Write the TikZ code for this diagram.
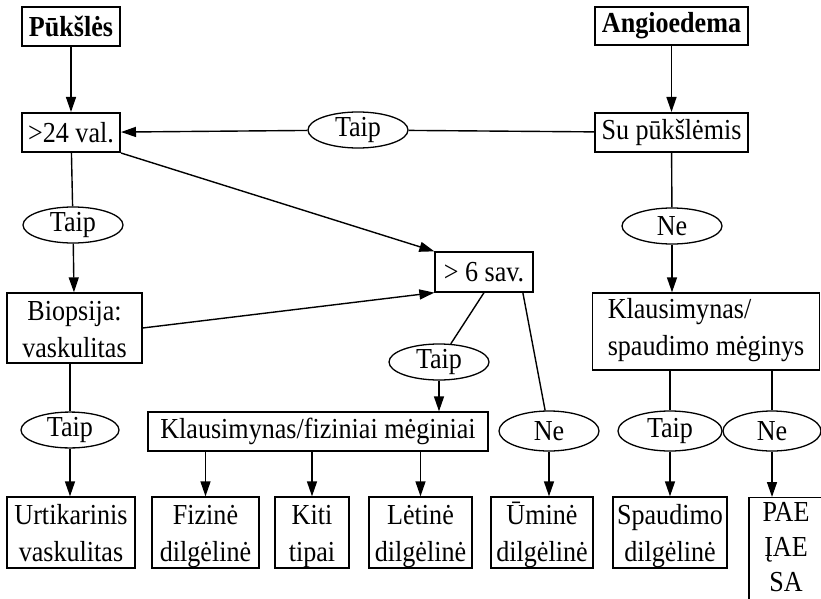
\documentclass[tikz,border=0pt]{standalone}
\usepackage{fontspec}
\setmainfont{Liberation Serif}[FakeStretch=0.9]
\usetikzlibrary{shapes.geometric,arrows.meta,calc}
\newcommand\tophs{\rule{0pt}{27pt}}
\newcommand\botds{\rule[-6pt]{0pt}{6pt}}
\begin{document}
\begin{tikzpicture}[x=1pt,y=-1pt,
  every node/.style={font=\fontsize{29}{37}\selectfont, inner sep=0pt, text=black},
  box/.style={draw, line width=1.3pt, rectangle, align=center},
  tbox/.style={draw, line width=2pt, rectangle, align=center},
  oval/.style={draw, line width=1.3pt, ellipse, minimum width=100pt, minimum height=36pt},
  conn/.style={line width=1.4pt},
  arr/.style={line width=1.4pt, -{Triangle[length=15pt,width=10pt]}},
]
\path[use as bounding box, clip] (0,0) rectangle (821,599);

% top level
\node[tbox, minimum width=98pt, minimum height=39pt] (puk) at (71,26.5) {\textbf{Pūkšlės}};
\node[tbox, minimum width=153pt, minimum height=38pt] (ang) at (671.5,26) {\textbf{Angioedema}};
\node[tbox, minimum width=98pt, minimum height=39pt] (h24) at (71,132.5) {>24 val.};
\node[tbox, minimum width=153pt, minimum height=39pt] (supuk) at (671.5,132.5) {Su pūkšlėmis};
\node[oval] (taipT) at (358,130) {Taip};

% second level
\node[oval] (taipL) at (73,225) {Taip};
\node[oval] (neR) at (672,226) {Ne};
\node[box, minimum width=135pt, minimum height=70pt] (bio) at (74.5,328) {\tophs Biopsija:\\vaskulitas\botds};
\node[box, minimum width=98pt, minimum height=40pt] (sav6) at (484,272) {> 6 sav.};
\node[box, align=left, minimum width=227pt, minimum height=77pt] (klsp) at (706,331.5) {\rule{0pt}{25pt}Klausimynas/\\spaudimo mėginys\rule[-15pt]{0pt}{15pt}};

% third level
\node[oval] (taipM) at (439,362) {Taip};
\node[oval, minimum width=98pt, minimum height=35pt] (taipB) at (70,430) {Taip};
\node[box, minimum width=340pt, minimum height=39pt] (kfm) at (318,431.5) {Klausimynas/fiziniai mėginiai};
\node[oval, minimum height=40pt] (neM) at (549,431) {Ne};
\node[oval, minimum width=104pt, minimum height=40pt] (taipR) at (670,431) {Taip};
\node[oval, minimum width=98pt, minimum height=40pt] (neRR) at (772,431) {Ne};

% bottom level
\node[box, minimum width=128pt, minimum height=71pt] (urt) at (71,532.5) {\tophs Urtikarinis\\vaskulitas\botds};
\node[box, minimum width=107pt, minimum height=71pt] (fiz) at (205.5,532.5) {\tophs Fizinė\\dilgėlinė\botds};
\node[box, minimum width=74pt, minimum height=71pt] (kiti) at (312,532.5) {\tophs Kiti\\tipai\botds};
\node[box, minimum width=103pt, minimum height=71pt] (let) at (420.5,532.5) {\tophs Lėtinė\\dilgėlinė\botds};
\node[box, minimum width=102pt, minimum height=71pt] (umi) at (542,532.5) {\tophs Ūminė\\dilgėlinė\botds};
\node[box, minimum width=114pt, minimum height=71pt] (spa) at (670,532.5) {\tophs Spaudimo\\dilgėlinė\botds};
\node[box, anchor=north, minimum width=74pt, inner ysep=4.5pt] (pae) at (786,497) {PAE\\[-2pt]ĮAE\\[-2pt]SA\rule[-40pt]{0pt}{1pt}};

% connectors
\draw[arr] (puk) -- (h24);
\draw[arr] (ang) -- (supuk);
\draw[conn] (supuk) -- (taipT);
\draw[arr] (taipT) -- (h24);
\draw[conn] (h24) -- (taipL);
\draw[arr] (taipL) -- (bio);
\draw[arr] (h24.south east) -- (sav6.north west);
\draw[arr] (bio.east) -- (sav6.south west);
\draw[conn] (sav6.south) -- (taipM);
\draw[conn] (sav6.-28) -- (neM);
\draw[arr] (taipM) -- (taipM |- kfm.north);
\draw[arr] (fiz.north |- kfm.south) -- (fiz.north);
\draw[arr] (kiti.north |- kfm.south) -- (kiti.north);
\draw[arr] (let.north |- kfm.south) -- (let.north);
\draw[conn] (taipB |- bio.south) -- (taipB);
\draw[arr] (taipB) -- (taipB |- urt.north);
\draw[arr] (neM) -- (neM |- umi.north);
\draw[conn] (supuk) -- (neR);
\draw[arr] (neR) -- (neR |- klsp.north);
\draw[conn] (taipR |- klsp.south) -- (taipR);
\draw[arr] (taipR) -- (taipR |- spa.north);
\draw[conn] (neRR |- klsp.south) -- (neRR);
\draw[arr] (neRR) -- (neRR |- pae.north);
\end{tikzpicture}
\end{document}
